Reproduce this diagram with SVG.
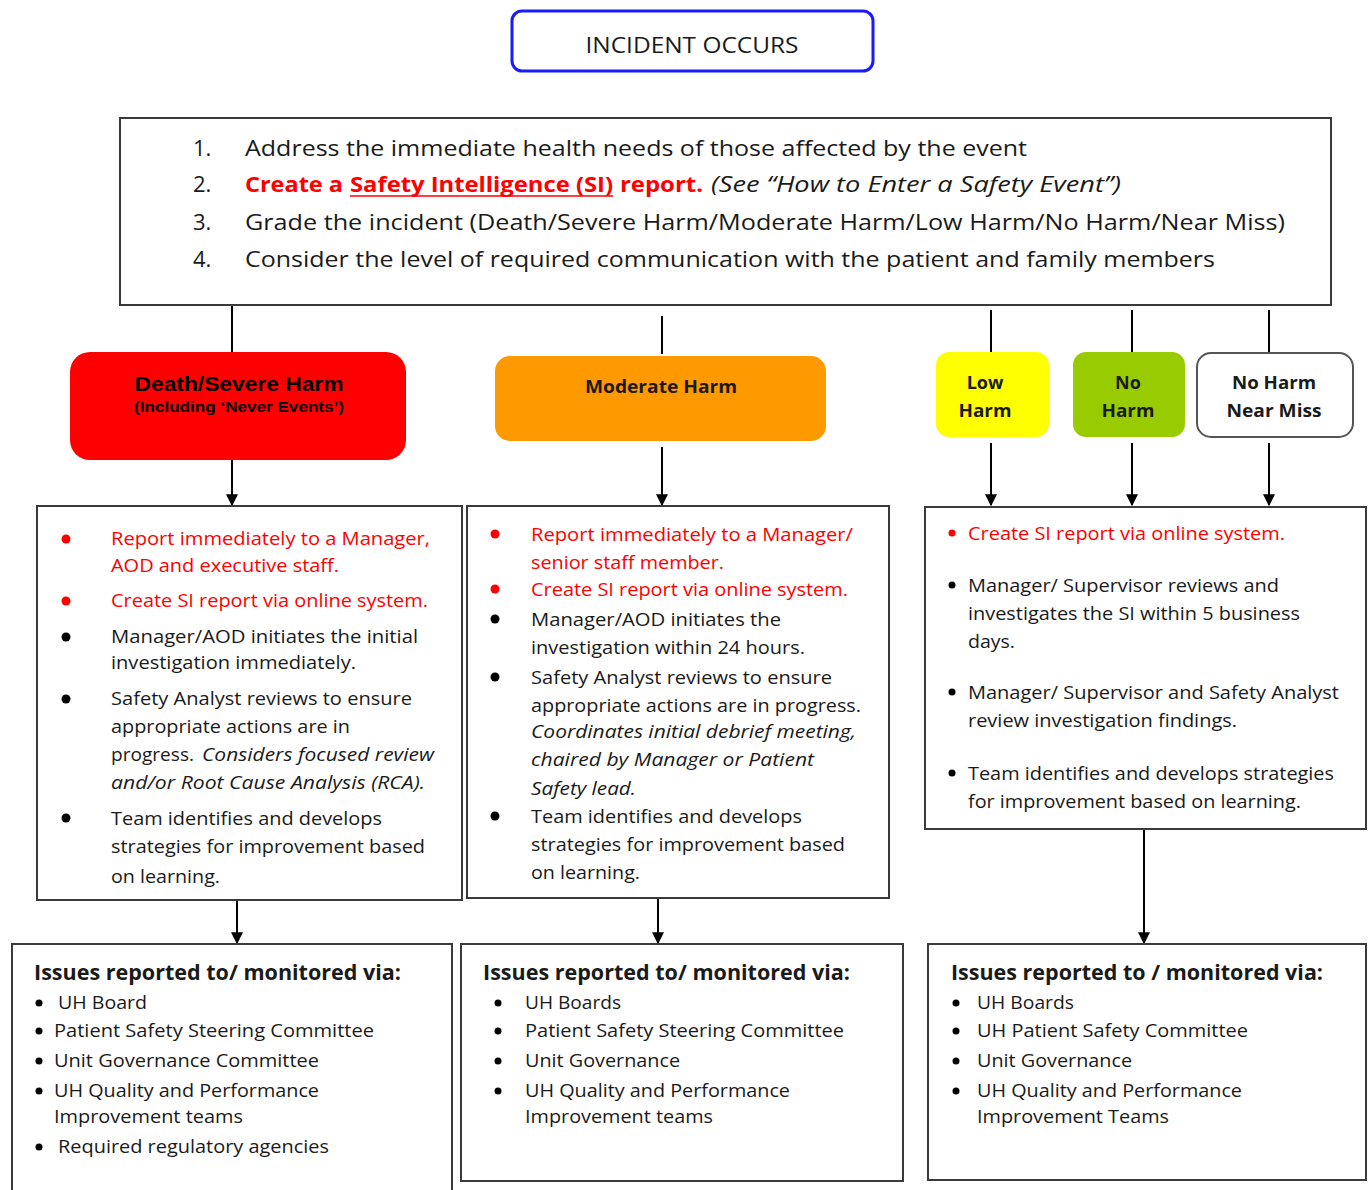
<svg xmlns="http://www.w3.org/2000/svg" width="1369" height="1190" viewBox="0 0 1369 1190">
<style>
text{font-family:"Open Sans","Noto Sans",sans-serif;fill:#1a1a1a;}
.t{font-size:22px;}
.b{font-size:18px;}
.r{fill:#ff0000;}
.i{font-style:italic;}
.bold{font-weight:bold;}
.h{font-size:21px;font-weight:bold;}
.lbl{font-size:18px;font-weight:bold;text-anchor:middle;}
.box{fill:#fff;stroke:#3a3a3a;stroke-width:2;}
.con{stroke:#000;stroke-width:2;fill:none;}
.dot{fill:#000;}
.rdot{fill:#ff0000;}
</style>
<defs>
<marker id="ah" viewBox="0 0 10 10" refX="9" refY="5" markerWidth="6" markerHeight="6" orient="auto" markerUnits="strokeWidth">
<path d="M0,0 L10,5 L0,10 z" fill="#000"/>
</marker>
</defs>
<rect width="1369" height="1190" fill="#fff"/>

<g id="connectors">
<line class="con" x1="232" y1="305" x2="232" y2="352"/>
<line class="con" x1="662" y1="316" x2="662" y2="354"/>
<line class="con" x1="991" y1="310" x2="991" y2="352"/>
<line class="con" x1="1132" y1="310" x2="1132" y2="352"/>
<line class="con" x1="1269" y1="310" x2="1269" y2="352"/>
<line class="con" x1="232" y1="460" x2="232" y2="505" marker-end="url(#ah)"/>
<line class="con" x1="662" y1="447" x2="662" y2="505" marker-end="url(#ah)"/>
<line class="con" x1="991" y1="443" x2="991" y2="505" marker-end="url(#ah)"/>
<line class="con" x1="1132" y1="443" x2="1132" y2="505" marker-end="url(#ah)"/>
<line class="con" x1="1269" y1="443" x2="1269" y2="505" marker-end="url(#ah)"/>
<line class="con" x1="237" y1="900" x2="237" y2="943" marker-end="url(#ah)"/>
<line class="con" x1="658" y1="898" x2="658" y2="943" marker-end="url(#ah)"/>
<line class="con" x1="1144" y1="829" x2="1144" y2="943" marker-end="url(#ah)"/>
</g>

<g id="incident">
<rect x="512" y="11" width="361" height="60" rx="10" fill="#fff" stroke="#1a1aff" stroke-width="3"/>
<text class="t" x="692" y="53" text-anchor="middle" textLength="213" lengthAdjust="spacingAndGlyphs">INCIDENT OCCURS</text>
</g>

<g id="steps">
<rect class="box" x="120" y="118" width="1211" height="187"/>
<text class="t" x="193" y="156">1.</text>
<text class="t" x="245" y="156" textLength="782" lengthAdjust="spacingAndGlyphs">Address the immediate health needs of those affected by the event</text>
<text class="t" x="193" y="192">2.</text>
<text class="t r bold" x="245" y="192" textLength="98" lengthAdjust="spacingAndGlyphs">Create a</text>
<text class="t r bold" x="350" y="192" textLength="263" lengthAdjust="spacingAndGlyphs">Safety Intelligence (SI)</text>
<line x1="350" y1="196" x2="613" y2="196" stroke="#ff0000" stroke-width="1.5"/>
<text class="t r bold" x="620" y="192" textLength="83" lengthAdjust="spacingAndGlyphs">report.</text>
<text class="t i" x="711" y="192" textLength="410" lengthAdjust="spacingAndGlyphs">(See “How to Enter a Safety Event”)</text>
<text class="t" x="193" y="230">3.</text>
<text class="t" x="245" y="230" textLength="1040" lengthAdjust="spacingAndGlyphs">Grade the incident (Death/Severe Harm/Moderate Harm/Low Harm/No Harm/Near Miss)</text>
<text class="t" x="193" y="267">4.</text>
<text class="t" x="245" y="267" textLength="970" lengthAdjust="spacingAndGlyphs">Consider the level of required communication with the patient and family members</text>
</g>

<g id="severe">
<rect x="70" y="352" width="336" height="108" rx="20" fill="#ff0000"/>
<text x="239" y="391" text-anchor="middle" style="font-family:'Liberation Sans',Arial,sans-serif;font-size:21px;font-weight:bold;fill:#000" textLength="209" lengthAdjust="spacingAndGlyphs">Death/Severe Harm</text>
<text x="239" y="412" text-anchor="middle" style="font-family:'Liberation Sans',Arial,sans-serif;font-size:14px;font-weight:bold;fill:#000" textLength="210" lengthAdjust="spacingAndGlyphs">(Including ‘Never Events’)</text>
</g>

<g id="moderate">
<rect x="495" y="356" width="331" height="85" rx="15" fill="#ff9900"/>
<text class="lbl" x="661" y="393" textLength="152" lengthAdjust="spacingAndGlyphs">Moderate Harm</text>
</g>

<g id="low">
<rect x="936" y="352" width="113" height="85" rx="13" fill="#ffff00"/>
<text class="lbl" x="985" y="389">Low</text>
<text class="lbl" x="985" y="417" textLength="53" lengthAdjust="spacingAndGlyphs">Harm</text>
</g>

<g id="noharm">
<rect x="1073" y="352" width="112" height="85" rx="13" fill="#99cc00"/>
<text class="lbl" x="1128" y="389">No</text>
<text class="lbl" x="1128" y="417" textLength="53" lengthAdjust="spacingAndGlyphs">Harm</text>
</g>

<g id="nearmiss">
<rect x="1197" y="353" width="156" height="84" rx="14" fill="#fff" stroke="#555" stroke-width="2"/>
<text class="lbl" x="1274" y="389" textLength="84" lengthAdjust="spacingAndGlyphs">No Harm</text>
<text class="lbl" x="1274" y="417" textLength="95" lengthAdjust="spacingAndGlyphs">Near Miss</text>
</g>

<g id="actions-severe">
<rect class="box" x="37" y="506" width="425" height="394"/>
<circle class="rdot" cx="66" cy="539" r="4.5"/>
<text class="b r" x="111" y="545" textLength="319" lengthAdjust="spacingAndGlyphs">Report immediately to a Manager,</text>
<text class="b r" x="111" y="572" textLength="228" lengthAdjust="spacingAndGlyphs">AOD and executive staff.</text>
<circle class="rdot" cx="66" cy="601" r="4.5"/>
<text class="b r" x="111" y="607" textLength="317" lengthAdjust="spacingAndGlyphs">Create SI report via online system.</text>
<circle class="dot" cx="66" cy="637" r="4.5"/>
<text class="b" x="111" y="643" textLength="307" lengthAdjust="spacingAndGlyphs">Manager/AOD initiates the initial</text>
<text class="b" x="111" y="669" textLength="245" lengthAdjust="spacingAndGlyphs">investigation immediately.</text>
<circle class="dot" cx="66" cy="699" r="4.5"/>
<text class="b" x="111" y="705" textLength="301" lengthAdjust="spacingAndGlyphs">Safety Analyst reviews to ensure</text>
<text class="b" x="111" y="733" textLength="239" lengthAdjust="spacingAndGlyphs">appropriate actions are in</text>
<text class="b" x="111" y="761" textLength="83" lengthAdjust="spacingAndGlyphs">progress.</text>
<text class="b i" x="202" y="761" textLength="232" lengthAdjust="spacingAndGlyphs">Considers focused review</text>
<text class="b i" x="111" y="789" textLength="314" lengthAdjust="spacingAndGlyphs">and/or Root Cause Analysis (RCA).</text>
<circle class="dot" cx="66" cy="818" r="4.5"/>
<text class="b" x="111" y="825" textLength="271" lengthAdjust="spacingAndGlyphs">Team identifies and develops</text>
<text class="b" x="111" y="853" textLength="314" lengthAdjust="spacingAndGlyphs">strategies for improvement based</text>
<text class="b" x="111" y="883" textLength="109" lengthAdjust="spacingAndGlyphs">on learning.</text>
</g>

<g id="actions-moderate">
<rect class="box" x="467" y="506" width="422" height="392"/>
<circle class="rdot" cx="495" cy="534" r="4.5"/>
<text class="b r" x="531" y="541" textLength="322" lengthAdjust="spacingAndGlyphs">Report immediately to a Manager/</text>
<text class="b r" x="531" y="569" textLength="193" lengthAdjust="spacingAndGlyphs">senior staff member.</text>
<circle class="rdot" cx="495" cy="589" r="4.5"/>
<text class="b r" x="531" y="596" textLength="317" lengthAdjust="spacingAndGlyphs">Create SI report via online system.</text>
<circle class="dot" cx="495" cy="619" r="4.5"/>
<text class="b" x="531" y="626" textLength="250" lengthAdjust="spacingAndGlyphs">Manager/AOD initiates the</text>
<text class="b" x="531" y="654" textLength="274" lengthAdjust="spacingAndGlyphs">investigation within 24 hours.</text>
<circle class="dot" cx="495" cy="677" r="4.5"/>
<text class="b" x="531" y="684" textLength="301" lengthAdjust="spacingAndGlyphs">Safety Analyst reviews to ensure</text>
<text class="b" x="531" y="712" textLength="330" lengthAdjust="spacingAndGlyphs">appropriate actions are in progress.</text>
<text class="b i" x="531" y="738" textLength="325" lengthAdjust="spacingAndGlyphs">Coordinates initial debrief meeting,</text>
<text class="b i" x="531" y="766" textLength="283" lengthAdjust="spacingAndGlyphs">chaired by Manager or Patient</text>
<text class="b i" x="531" y="795" textLength="105" lengthAdjust="spacingAndGlyphs">Safety lead.</text>
<circle class="dot" cx="495" cy="816" r="4.5"/>
<text class="b" x="531" y="823" textLength="271" lengthAdjust="spacingAndGlyphs">Team identifies and develops</text>
<text class="b" x="531" y="851" textLength="314" lengthAdjust="spacingAndGlyphs">strategies for improvement based</text>
<text class="b" x="531" y="879" textLength="109" lengthAdjust="spacingAndGlyphs">on learning.</text>
</g>

<g id="actions-low">
<rect class="box" x="925" y="507" width="441" height="322"/>
<circle class="rdot" cx="952" cy="533" r="3.5"/>
<text class="b r" x="968" y="540" textLength="317" lengthAdjust="spacingAndGlyphs">Create SI report via online system.</text>
<circle class="dot" cx="952" cy="585" r="3.5"/>
<text class="b" x="968" y="592" textLength="311" lengthAdjust="spacingAndGlyphs">Manager/ Supervisor reviews and</text>
<text class="b" x="968" y="620" textLength="332" lengthAdjust="spacingAndGlyphs">investigates the SI within 5 business</text>
<text class="b" x="968" y="648" textLength="47" lengthAdjust="spacingAndGlyphs">days.</text>
<circle class="dot" cx="952" cy="692" r="3.5"/>
<text class="b" x="968" y="699" textLength="371" lengthAdjust="spacingAndGlyphs">Manager/ Supervisor and Safety Analyst</text>
<text class="b" x="968" y="727" textLength="269" lengthAdjust="spacingAndGlyphs">review investigation findings.</text>
<circle class="dot" cx="952" cy="773" r="3.5"/>
<text class="b" x="968" y="780" textLength="366" lengthAdjust="spacingAndGlyphs">Team identifies and develops strategies</text>
<text class="b" x="968" y="808" textLength="333" lengthAdjust="spacingAndGlyphs">for improvement based on learning.</text>
</g>

<g id="monitor-severe">
<rect class="box" x="12" y="944" width="440" height="256"/>
<text class="h" x="34" y="980" textLength="367" lengthAdjust="spacingAndGlyphs">Issues reported to/ monitored via:</text>
<circle class="dot" cx="39" cy="1003" r="3.5"/>
<text class="b" x="58" y="1009" textLength="89" lengthAdjust="spacingAndGlyphs">UH Board</text>
<circle class="dot" cx="39" cy="1031" r="3.5"/>
<text class="b" x="54" y="1037" textLength="320" lengthAdjust="spacingAndGlyphs">Patient Safety Steering Committee</text>
<circle class="dot" cx="39" cy="1061" r="3.5"/>
<text class="b" x="54" y="1067" textLength="265" lengthAdjust="spacingAndGlyphs">Unit Governance Committee</text>
<circle class="dot" cx="39" cy="1091" r="3.5"/>
<text class="b" x="54" y="1097" textLength="265" lengthAdjust="spacingAndGlyphs">UH Quality and Performance</text>
<text class="b" x="54" y="1123" textLength="189" lengthAdjust="spacingAndGlyphs">Improvement teams</text>
<circle class="dot" cx="39" cy="1147" r="3.5"/>
<text class="b" x="58" y="1153" textLength="271" lengthAdjust="spacingAndGlyphs">Required regulatory agencies</text>
</g>

<g id="monitor-moderate">
<rect class="box" x="461" y="944" width="442" height="237"/>
<text class="h" x="483" y="980" textLength="367" lengthAdjust="spacingAndGlyphs">Issues reported to/ monitored via:</text>
<circle class="dot" cx="498" cy="1003" r="3.5"/>
<text class="b" x="525" y="1009" textLength="96" lengthAdjust="spacingAndGlyphs">UH Boards</text>
<circle class="dot" cx="498" cy="1031" r="3.5"/>
<text class="b" x="525" y="1037" textLength="319" lengthAdjust="spacingAndGlyphs">Patient Safety Steering Committee</text>
<circle class="dot" cx="498" cy="1061" r="3.5"/>
<text class="b" x="525" y="1067" textLength="155" lengthAdjust="spacingAndGlyphs">Unit Governance</text>
<circle class="dot" cx="498" cy="1091" r="3.5"/>
<text class="b" x="525" y="1097" textLength="265" lengthAdjust="spacingAndGlyphs">UH Quality and Performance</text>
<text class="b" x="525" y="1123" textLength="188" lengthAdjust="spacingAndGlyphs">Improvement teams</text>
</g>

<g id="monitor-low">
<rect class="box" x="928" y="944" width="438" height="236"/>
<text class="h" x="951" y="980" textLength="372" lengthAdjust="spacingAndGlyphs">Issues reported to / monitored via:</text>
<circle class="dot" cx="956" cy="1003" r="3.5"/>
<text class="b" x="977" y="1009" textLength="97" lengthAdjust="spacingAndGlyphs">UH Boards</text>
<circle class="dot" cx="956" cy="1031" r="3.5"/>
<text class="b" x="977" y="1037" textLength="271" lengthAdjust="spacingAndGlyphs">UH Patient Safety Committee</text>
<circle class="dot" cx="956" cy="1061" r="3.5"/>
<text class="b" x="977" y="1067" textLength="155" lengthAdjust="spacingAndGlyphs">Unit Governance</text>
<circle class="dot" cx="956" cy="1091" r="3.5"/>
<text class="b" x="977" y="1097" textLength="265" lengthAdjust="spacingAndGlyphs">UH Quality and Performance</text>
<text class="b" x="977" y="1123" textLength="192" lengthAdjust="spacingAndGlyphs">Improvement Teams</text>
</g>
</svg>
